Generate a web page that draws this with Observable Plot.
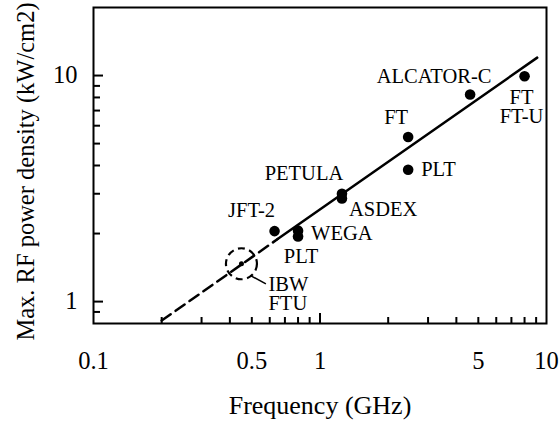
<!DOCTYPE html>
<html>
<head>
<meta charset="utf-8">
<script src="https://cdn.jsdelivr.net/npm/d3@7"></script>
<script src="https://cdn.jsdelivr.net/npm/@observablehq/plot@0.6"></script>
<style>
  html, body { margin: 0; padding: 0; background: #fff; }
  svg { font-family: "Liberation Serif", "Times New Roman", serif; }
</style>
</head>
<body>
<div id="chart"></div>
<script>
// ---- data ----
const machines = ["JFT-2", "WEGA", "PLT", "PETULA", "ASDEX", "FT", "PLT", "ALCATOR-C", "FT\nFT-U"];
const freqGHz  = [0.63, 0.80, 0.80, 1.25, 1.25, 2.45, 2.45, 4.6, 8.0];
const density  = [2.05, 2.06, 1.94, 3.00, 2.86, 5.35, 3.83, 8.24, 9.93];

const ibwLabel = ["IBW\nFTU"];
const ibwFreq = [0.45];
const ibwDensity = [1.47];

// fitted trend: dashed (extrapolated) and solid parts
const dashedFreq = [0.2, 0.65];
const dashedDensity = [0.824, 1.89];
const solidFreq = [0.65, 9.1];
const solidDensity = [1.89, 12.0];

// leader from IBW circle to its label
const leaderFreq = [0.496, 0.577];
const leaderDensity = [1.30, 1.197];

const xTickLabels = [0.1, 0.5, 1, 5, 10];
const yTickLabels = [1, 10];
const xMinor = [0.2, 0.3, 0.4, 0.5, 0.6, 0.7, 0.8, 0.9, 2, 3, 4, 5, 6, 7, 8, 9];
const xMajor = [1];
const yMinor = [0.9, 2, 3, 4, 5, 6, 7, 8, 9];
const yMajor = [1, 10];

const xTitle = "Frequency (GHz)";
const yTitle = "Max. RF power density (kW/cm2)";

// ---- tables ----
const points = machines.map((m, i) => ({name: m, f: freqGHz[i], p: density[i]}));
const ibw = ibwFreq.map((f, i) => ({f, p: ibwDensity[i], name: ibwLabel[i]}));
const dashed = dashedFreq.map((f, i) => ({f, p: dashedDensity[i]}));
const solid = solidFreq.map((f, i) => ({f, p: solidDensity[i]}));
const leader = [{x1: leaderFreq[0], y1: leaderDensity[0], x2: leaderFreq[1], y2: leaderDensity[1]}];

// label layout (pixel offsets from each point)
const layout = [
  {dx: -23, dy: -20, anchor: "middle", line: "middle"},
  {dx: 13, dy: 3, anchor: "start", line: "middle"},
  {dx: 3, dy: 20, anchor: "middle", line: "middle"},
  {dx: -38, dy: -20, anchor: "middle", line: "middle"},
  {dx: 7, dy: 11, anchor: "start", line: "middle"},
  {dx: -12, dy: -19, anchor: "middle", line: "middle"},
  {dx: 13, dy: 0, anchor: "start", line: "middle"},
  {dx: -36, dy: -18, anchor: "middle", line: "middle"},
  {dx: -3, dy: 31.5, anchor: "middle", line: "middle"}
];

const W = 560, H = 425;
const mL = 93, mR = 14, mT = 7, mB = 102;
const innerW = W - mL - mR, innerH = H - mT - mB;
const LABEL_FS = 20.5;

const labelMarks = points.map((d, i) => Plot.text([d], {
  x: "f", y: "p", text: "name", dx: layout[i].dx, dy: layout[i].dy,
  textAnchor: layout[i].anchor, lineAnchor: layout[i].line, lineHeight: 0.93,
  fontSize: LABEL_FS, fill: "black"
}));

const chart = Plot.plot({
  width: W, height: H,
  marginLeft: mL, marginRight: mR, marginTop: mT, marginBottom: mB,
  x: {type: "log", domain: [0.1, 10], axis: null},
  y: {type: "log", domain: [0.8, 20], axis: null},
  style: {fontFamily: '"Liberation Serif", "Times New Roman", serif', background: "white"},
  marks: [
    // inward ticks
    Plot.ruleX(xMinor, {x: d => d, insetTop: innerH - 6, strokeWidth: 2, stroke: "black"}),
    Plot.ruleX(xMajor, {x: d => d, insetTop: innerH - 10, strokeWidth: 2, stroke: "black"}),
    Plot.ruleY(yMinor, {y: d => d, insetRight: innerW - 7, strokeWidth: 2, stroke: "black"}),
    Plot.ruleY(yMajor, {y: d => d, insetRight: innerW - 10, strokeWidth: 2, stroke: "black"}),
    // tick labels
    Plot.text(xTickLabels, {x: d => d, frameAnchor: "bottom", dy: 38, text: d => String(d),
      textAnchor: "middle", lineAnchor: "middle", fontSize: 24.5, fill: "black"}),
    Plot.text(yTickLabels, {y: d => d, frameAnchor: "left", dx: -16, text: d => String(d),
      textAnchor: "end", lineAnchor: "middle", fontSize: 24.5, fill: "black"}),
    // axis titles
    Plot.text([xTitle], {frameAnchor: "bottom", dy: 82, text: d => d, textAnchor: "middle",
      fontSize: 26, lineAnchor: "middle", fill: "black"}),
    Plot.text([yTitle], {frameAnchor: "left", dx: -67, dy: 6, rotate: -90, textAnchor: "middle",
      text: d => d, fontSize: 24.5, lineAnchor: "middle", fill: "black"}),
    // trend line
    Plot.line(dashed, {x: "f", y: "p", stroke: "black", strokeWidth: 2.5, strokeDasharray: "11,6"}),
    Plot.line(solid, {x: "f", y: "p", stroke: "black", strokeWidth: 2.5}),
    // data points
    Plot.dot(points, {x: "f", y: "p", r: 5.3, fill: "black"}),
    // IBW point with dashed circle
    Plot.dot(ibw, {x: "f", y: "p", r: 2.5, fill: "black"}),
    Plot.dot(ibw, {x: "f", y: "p", r: 15.5, fill: "none", stroke: "black", strokeWidth: 2.2, strokeDasharray: "7,4.5"}),
    Plot.link(leader, {x1: "x1", y1: "y1", x2: "x2", y2: "y2", stroke: "black", strokeWidth: 1.5}),
    Plot.text(ibw, {x: "f", y: "p", text: "name", dx: 27, dy: 30.5, textAnchor: "start",
      lineAnchor: "middle", lineHeight: 0.93, fontSize: LABEL_FS, fill: "black"}),
    ...labelMarks,
    Plot.frame({stroke: "black", strokeWidth: 2})
  ]
});
document.getElementById("chart").appendChild(chart);
</script>
</body>
</html>
